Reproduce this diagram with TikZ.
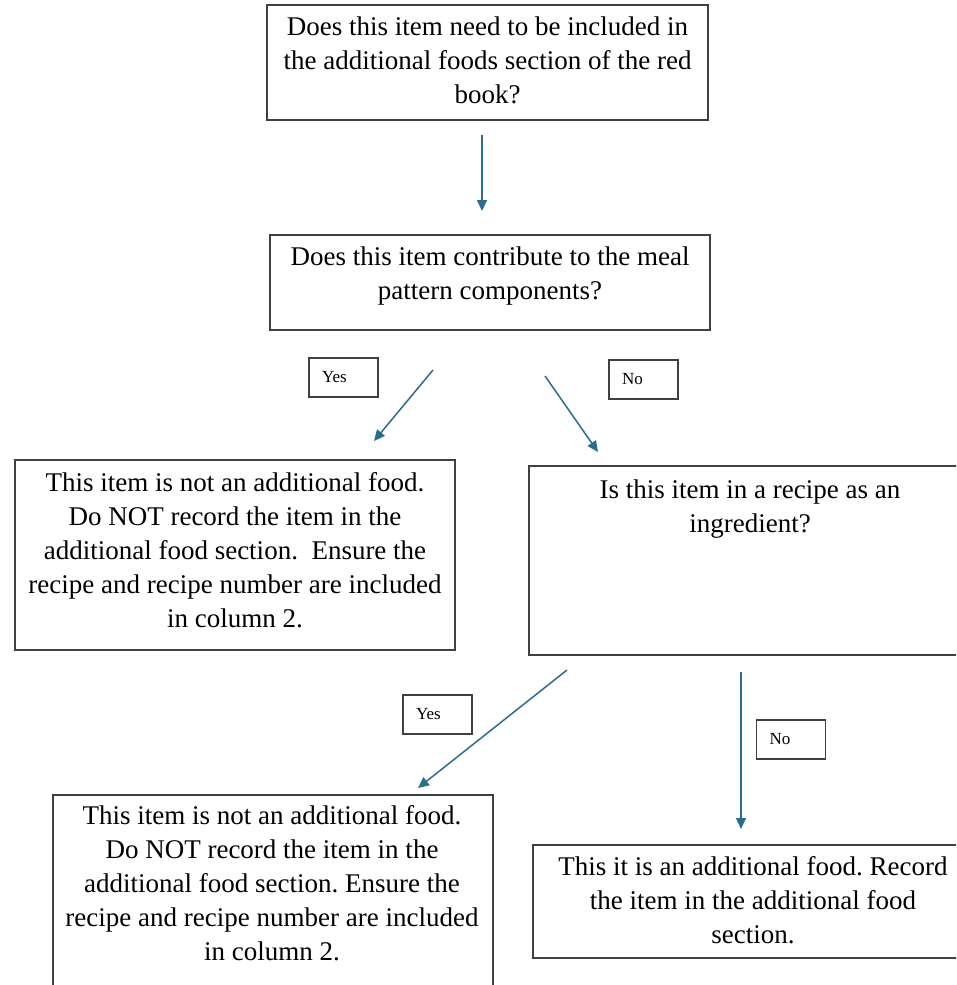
\documentclass[tikz,border=0pt]{standalone}
\usepackage{fontspec}
\setmainfont{Liberation Serif}
\usetikzlibrary{arrows.meta}
\definecolor{arr}{RGB}{41,110,145}
\definecolor{edge}{RGB}{64,64,64}
\frenchspacing
\begin{document}
\begin{tikzpicture}[x=1pt,y=-1pt,
 box/.style={draw=edge, line width=1.3pt, rectangle, inner sep=0pt},
 txt/.style={anchor=north, align=center, inner sep=0pt, font=\fontsize{27}{34}\selectfont},
 tag/.style={draw=edge, line width=1.2pt, rectangle, inner xsep=13pt, inner ysep=0pt, text width=43pt, align=left, minimum height=39pt, font=\fontsize{17}{20}\selectfont},
 conn/.style={draw=arr, line width=1.5pt, -{Triangle[length=11pt,width=10pt]}}]
\useasboundingbox (0,0) rectangle (956,985);
\clip (0,0) rectangle (956,985);
\fill[white] (0,0) rectangle (956,985);

% boxes
\node[box, minimum width=441pt, minimum height=115pt] (b1) at (487.5,62.5) {};
\node[box, minimum width=440pt, minimum height=95pt] (b2) at (490,282.5) {};
\node[box, minimum width=440pt, minimum height=190pt] (b3) at (235,555) {};
\node[box, minimum width=442pt, minimum height=189pt] (b4) at (750,560.5) {};
\node[box, minimum width=440pt, minimum height=210pt] (b5) at (273,900) {};
\node[box, minimum width=440pt, minimum height=113pt] (b6) at (753,901.5) {};

% texts
\node[txt] (t1) at (487.5,17) {Does this item need to be included in\\the additional foods section of the red\\book?};
\node[txt] (t2) at (490,247) {Does this item contribute to the meal\\pattern components?};
\node[txt] (t3) at (235,472) {This item is not an additional food.\\Do NOT record the item in the\\additional food section.~ Ensure the\\recipe and recipe number are included\\in column 2.};
\node[txt] (t4) at (750,480) {Is this item in a recipe as an\\ingredient?};
\node[txt] (t5) at (272,805) {This item is not an additional food.\\Do NOT record the item in the\\additional food section. Ensure the\\recipe and recipe number are included\\in column 2.};
\node[txt] (t6) at (753,856) {This it is an additional food. Record\\the item in the additional food\\section.};

% labels
\node[tag] (y1) at (343.5,377.5) {Yes};
\node[tag] (n1) at (643.5,379.5) {No};
\node[tag] (y2) at (437.5,714.5) {Yes};
\node[tag] (n2) at (791,739.5) {No};

% connector end points
\coordinate (a1s) at (482,135); \coordinate (a1e) at (482,211);
\coordinate (a2s) at (433,370); \coordinate (a2e) at (374,441);
\coordinate (a3s) at (545,376); \coordinate (a3e) at (598,452);
\coordinate (a4s) at (567,670); \coordinate (a4e) at (418,788);
\coordinate (a5s) at (741,672); \coordinate (a5e) at (741,829);

\draw[conn] (a1s) -- (a1e);
\draw[conn] (a2s) -- (a2e);
\draw[conn] (a3s) -- (a3e);
\draw[conn] (a4s) -- (a4e);
\draw[conn] (a5s) -- (a5e);
\end{tikzpicture}
\end{document}
